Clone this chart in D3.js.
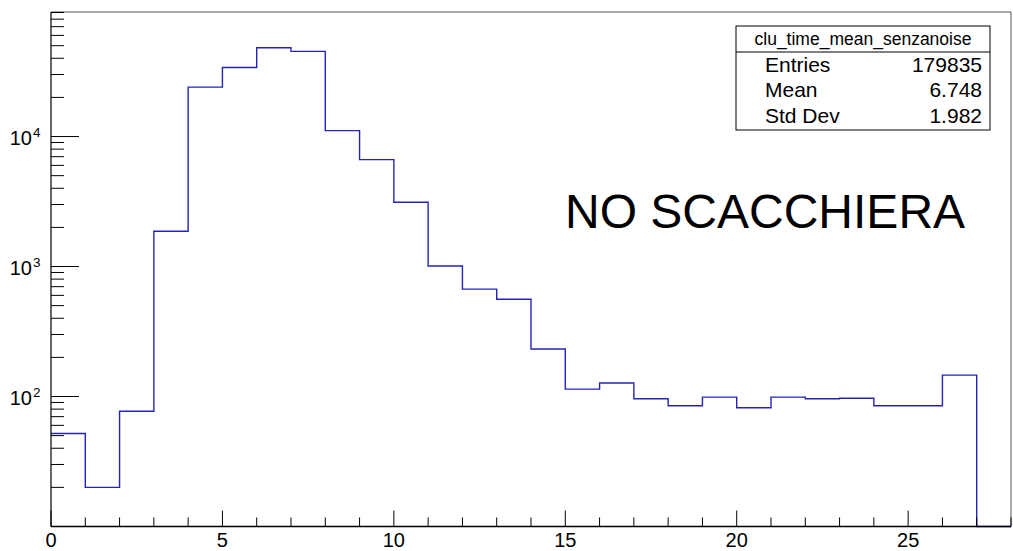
<!DOCTYPE html>
<html>
<head>
<meta charset="utf-8">
<script src="https://cdn.jsdelivr.net/npm/d3@7"></script>
<style>
  html, body { margin: 0; padding: 0; background: #fff; }
  svg { display: block; font-family: "Liberation Sans", Arial, Helvetica, sans-serif; }
</style>
</head>
<body>
<svg id="chart" width="1013" height="551"></svg>
<script>
// Histogram of clu_time_mean_senzanoise: unit-width bins from 0 to 28
const binLow = [0, 1, 2, 3, 4, 5, 6, 7, 8, 9, 10, 11, 12, 13, 14, 15, 16, 17, 18, 19, 20, 21, 22, 23, 24, 25, 26, 27];
const counts = [52, 20, 77, 1870, 24000, 34000, 48200, 45200, 11100, 6640, 3120, 1010, 670, 560, 232, 114, 127, 96, 85, 99, 82, 99, 96, 97, 85, 85, 146, 0];

const xTickLabels = ["0", "5", "10", "15", "20", "25"];
const xTickValues = [0, 5, 10, 15, 20, 25];
const yDecades = [100, 1000, 10000];
const yDecadeExp = ["2", "3", "4"];

const statsTitle = "clu_time_mean_senzanoise";
const statsNames = ["Entries", "Mean", "Std Dev"];
const statsValues = ["179835", "6.748", "1.982"];
const annotation = "NO SCACCHIERA";

const svg = d3.select("#chart");
const plot = { left: 51, right: 1011, top: 12, bottom: 526.5 };

const x = d3.scaleLinear().domain([0, 28]).range([plot.left, plot.right]);
const y = d3.scaleLog().domain([10, 90800]).range([plot.bottom, plot.top]);

// Frame (top and right edges)
svg.append("path")
  .attr("d", `M${plot.left},${plot.top}H${plot.right}V${plot.bottom}`)
  .attr("fill", "none").attr("stroke", "#555").attr("stroke-width", 1);

// Histogram outline drawn as a step path (drawn beneath the axes)
const yv = v => v > 0 ? y(Math.max(v, 10)) : plot.bottom;
let d = `M${x(binLow[0])},${yv(counts[0])}`;
binLow.forEach((lo, i) => {
  if (i > 0) d += `V${yv(counts[i])}`;
  d += `H${x(lo + 1)}`;
});
svg.append("path")
  .attr("d", d)
  .attr("fill", "none")
  .attr("stroke", "#2424b4")
  .attr("stroke-width", 1.4)
  .attr("stroke-linejoin", "miter");

// X axis
const xAxis = svg.append("g").attr("class", "x-axis");
xAxis.append("line")
  .attr("x1", plot.left).attr("x2", plot.right)
  .attr("y1", plot.bottom).attr("y2", plot.bottom)
  .attr("stroke", "#000").attr("stroke-width", 1.6);
const xMinor = d3.range(0, 28.001, 1);
xAxis.selectAll("line.tick")
  .data(xMinor)
  .join("line")
  .attr("class", "tick")
  .attr("x1", v => x(v)).attr("x2", v => x(v))
  .attr("y1", plot.bottom)
  .attr("y2", v => plot.bottom - (v % 5 === 0 ? 16 : 9))
  .attr("stroke", "#000").attr("stroke-width", 1);
xAxis.selectAll("text")
  .data(xTickValues)
  .join("text")
  .attr("x", v => x(v))
  .attr("y", 547)
  .attr("text-anchor", "middle")
  .attr("font-size", 20)
  .attr("fill", "#000")
  .text((v, i) => xTickLabels[i]);

// Y axis (log scale)
const yAxis = svg.append("g").attr("class", "y-axis");
yAxis.append("line")
  .attr("x1", plot.left).attr("x2", plot.left)
  .attr("y1", plot.top).attr("y2", plot.bottom)
  .attr("stroke", "#000").attr("stroke-width", 1.2);
const yMinor = [];
[10, 100, 1000, 10000].forEach(dec => {
  for (let k = 2; k <= 9; k++) {
    const v = dec * k;
    if (v <= y.domain()[1]) yMinor.push(v);
  }
});
yAxis.selectAll("line.minor")
  .data(yMinor)
  .join("line")
  .attr("class", "minor")
  .attr("x1", plot.left).attr("x2", plot.left + 13)
  .attr("y1", v => y(v)).attr("y2", v => y(v))
  .attr("stroke", "#000").attr("stroke-width", 1);
yAxis.selectAll("line.major")
  .data(yDecades)
  .join("line")
  .attr("class", "major")
  .attr("x1", plot.left).attr("x2", plot.left + 28)
  .attr("y1", v => y(v)).attr("y2", v => y(v))
  .attr("stroke", "#000").attr("stroke-width", 1);
const yLab = yAxis.selectAll("g.lab")
  .data(yDecades)
  .join("g")
  .attr("class", "lab")
  .attr("transform", v => `translate(0,${y(v)})`);
yLab.append("text")
  .attr("x", 32).attr("y", 8.5)
  .attr("text-anchor", "end")
  .attr("font-size", 20)
  .text("10");
yLab.append("text")
  .attr("x", 33).attr("y", 0.5)
  .attr("font-size", 13.5)
  .text((v, i) => yDecadeExp[i]);

// Statistics box
const box = { x0: 736, x1: 990, y0: 26, y1: 130, sep: 52 };
const stats = svg.append("g").attr("class", "stats");
stats.append("rect")
  .attr("x", box.x0).attr("y", box.y0)
  .attr("width", box.x1 - box.x0).attr("height", box.y1 - box.y0)
  .attr("fill", "#fff").attr("stroke", "#000").attr("stroke-width", 1);
stats.append("line")
  .attr("x1", box.x0).attr("x2", box.x1)
  .attr("y1", box.sep).attr("y2", box.sep)
  .attr("stroke", "#000").attr("stroke-width", 1);
stats.append("text")
  .attr("x", (box.x0 + box.x1) / 2).attr("y", 44.5)
  .attr("text-anchor", "middle")
  .attr("font-size", 17.5)
  .text(statsTitle);
const rowY = [71.5, 97, 122.5];
statsNames.forEach((name, i) => {
  stats.append("text")
    .attr("x", box.x0 + 29).attr("y", rowY[i])
    .attr("font-size", 21)
    .text(name);
  stats.append("text")
    .attr("x", box.x1 - 8).attr("y", rowY[i])
    .attr("text-anchor", "end")
    .attr("font-size", 21)
    .text(statsValues[i]);
});

// Annotation
svg.append("text")
  .attr("x", 565).attr("y", 228)
  .attr("font-size", 48)
  .attr("fill", "#000")
  .text(annotation);
</script>
</body>
</html>
